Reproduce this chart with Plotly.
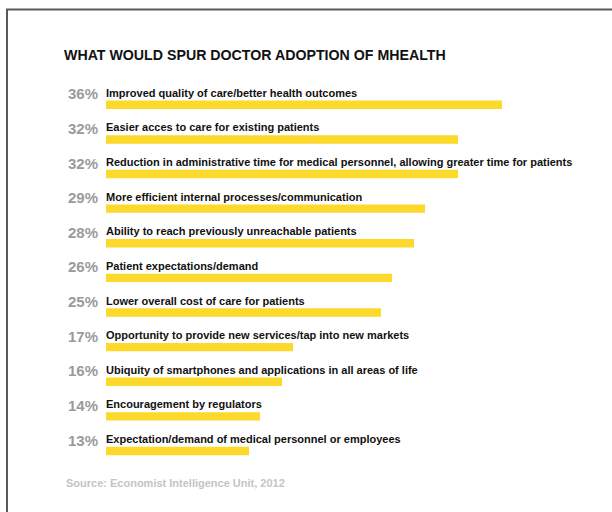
import plotly.graph_objects as go

categories = [
    "Improved quality of care/better health outcomes",
    "Easier acces to care for existing patients",
    "Reduction in administrative time for medical personnel, allowing greater time for patients",
    "More efficient internal processes/communication",
    "Ability to reach previously unreachable patients",
    "Patient expectations/demand",
    "Lower overall cost of care for patients",
    "Opportunity to provide new services/tap into new markets",
    "Ubiquity of smartphones and applications in all areas of life",
    "Encouragement by regulators",
    "Expectation/demand of medical personnel or employees",
]
values = [36, 32, 32, 29, 28, 26, 25, 17, 16, 14, 13]
title_text = "WHAT WOULD SPUR DOCTOR ADOPTION OF MHEALTH"
source_text = "Source: Economist Intelligence Unit, 2012"

W, H = 612, 512
FONT = "Liberation Sans, Arial, sans-serif"

fig = go.Figure(go.Bar(
    x=values, y=categories, orientation="h",
    marker=dict(color="#FDD92C", line=dict(width=0)),
    hoverinfo="skip",
))

x0_px, y_top, y_bot = 106, 87.5, 472.5
fig.update_layout(
    width=W, height=H,
    margin=dict(l=0, r=0, t=0, b=0),
    paper_bgcolor="white", plot_bgcolor="white",
    showlegend=False,
    bargap=0.757,
    xaxis=dict(domain=[x0_px / W, 1], range=[0, (W - x0_px) / 11],
               visible=False, fixedrange=True),
    yaxis=dict(domain=[(H - y_bot) / H, (H - y_top) / H],
               categoryorder="array", categoryarray=categories,
               autorange="reversed", visible=False, fixedrange=True),
)

for cat, v in zip(categories, values):
    fig.add_annotation(x=0, y=cat, xref="x", yref="y", text=f"<b>{cat}</b>",
                       showarrow=False, xanchor="left", yanchor="middle",
                       xshift=-2, yshift=12,
                       font=dict(family=FONT, size=11, color="#111111"))
    fig.add_annotation(x=0, y=cat, xref="x", yref="y", text=f"<b>{v}%</b>",
                       showarrow=False, xanchor="right", yanchor="middle",
                       xshift=-6, yshift=11,
                       font=dict(family=FONT, size=15, color="#9a9a9a"))

fig.add_annotation(x=62 / W, y=(H - 55) / H, xref="paper", yref="paper",
                   text=f"<b>{title_text}</b>", showarrow=False,
                   xanchor="left", yanchor="middle",
                   font=dict(family=FONT, size=14.2, color="#111111"))
fig.add_annotation(x=64 / W, y=(H - 483) / H, xref="paper", yref="paper",
                   text=f"<b>{source_text}</b>", showarrow=False,
                   xanchor="left", yanchor="middle",
                   font=dict(family=FONT, size=11, color="#c4c4c4"))

# Frame lines (left and top)
fig.add_shape(type="line", xref="paper", yref="paper",
              x0=7 / W, x1=7 / W, y0=0, y1=(H - 9.5) / H,
              line=dict(color="#5a5a5a", width=2))
fig.add_shape(type="line", xref="paper", yref="paper",
              x0=6 / W, x1=1, y0=(H - 9.5) / H, y1=(H - 9.5) / H,
              line=dict(color="#5a5a5a", width=2))

fig.write_html("out.html")
